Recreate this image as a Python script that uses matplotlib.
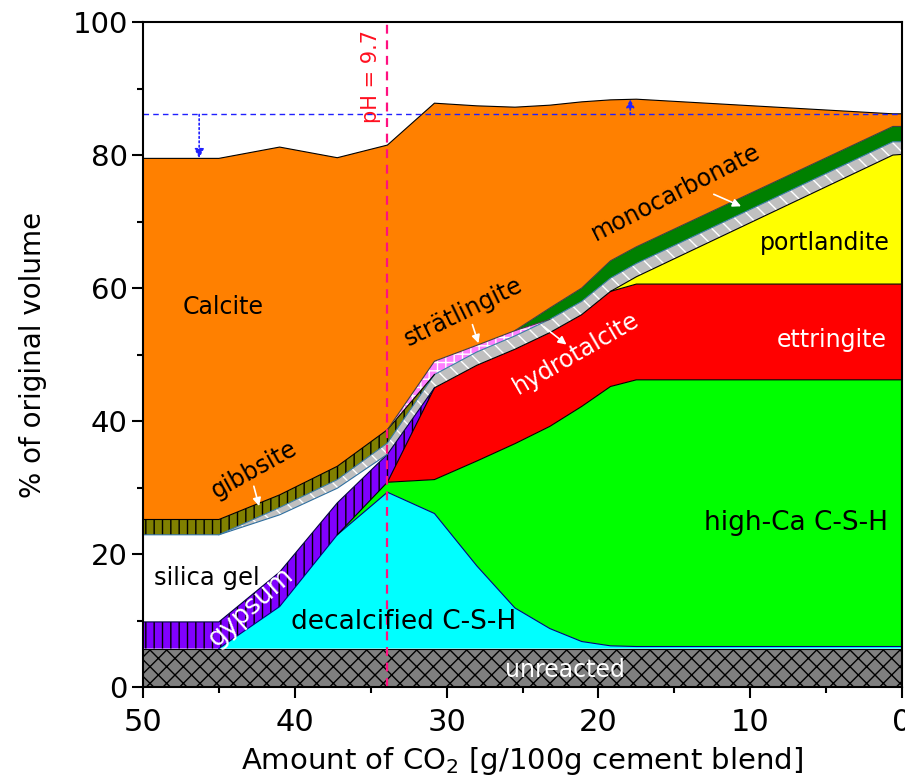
import numpy as np
import matplotlib
matplotlib.use("Agg")
import matplotlib.pyplot as plt

plt.rcParams['font.family'] = ['DejaVu Sans']
plt.rcParams['hatch.linewidth'] = 1.0

# CO2 uptake steps [g/100g cement blend]
co2 = [50, 45, 41, 37.2, 33.9, 30.8, 28, 25.5, 23.2, 21.1, 19.2, 17.5, 0.6, 0]

# phase volumes in % of original volume, stacked bottom -> top
unreacted = [5.8, 5.8, 5.8, 5.8, 5.8, 5.8, 5.8, 5.8, 5.8, 5.8, 5.8, 5.8, 5.8, 5.8]
decalcified_csh = [0, 0, 6.3, 17.1, 23.5, 20.3, 12.4, 6.1, 3.0, 1.05, 0.4, 0.3, 0.3, 0.3]
high_ca_csh = [0, 0, 0, 0, 1.5, 5.1, 15.8, 24.7, 30.4, 35.35, 39.0, 40.1, 40.1, 40.1]
ettringite = [0, 0, 0, 0, 0, 13.8, 14.4, 14.2, 14.1, 13.8, 14.3, 14.4, 14.4, 14.4]
portlandite = [0, 0, 0, 0, 0, 0, 0, 0, 0, 0, 0, 1.1, 19.4, 19.5]
gypsum = [4.0, 4.0, 5.2, 4.8, 4.2, 0, 0, 0, 0, 0, 0, 0, 0, 0]
silica_gel = [13.1, 13.1, 8.6, 2.2, 0, 0, 0, 0, 0, 0, 0, 0, 0, 0]
hydrotalcite = [0, 0, 1.1, 1.3, 1.7, 2.0, 2.0, 2.0, 2.0, 2.0, 2.0, 2.0, 2.0, 1.9]
gibbsite = [2.3, 2.3, 1.9, 2.0, 2.0, 0, 0, 0, 0, 0, 0, 0, 0, 0]
stratlingite = [0, 0, 0, 0, 0, 2.0, 1.0, 0.8, 0, 0, 0, 0, 0, 0]
monocarbonate = [0, 0, 0, 0, 0, 0, 0, 0, 1.7, 2.0, 2.6, 2.5, 2.3, 2.3]
calcite = [54.3, 54.3, 52.3, 46.4, 42.8, 38.8, 36.0, 33.6, 30.5, 28.0, 24.2, 22.2, 1.9, 1.9]

ph_co2 = 33.9        # pH = 9.7 reached
ref_volume = 86.1    # total volume at 0 g CO2

# values, face colour, hatch, hatch colour, outline colour
layers = [
    (unreacted, "#808080", "xx", "black", "black"),
    (decalcified_csh, "#00ffff", None, None, "#000080"),
    (high_ca_csh, "#00ff00", None, None, "black"),
    (ettringite, "#ff0000", None, None, "black"),
    (portlandite, "#ffff00", None, None, "black"),
    (gypsum, "#8000ff", "||", "black", "#000040"),
    (silica_gel, "white", None, None, "#3070a0"),
    (hydrotalcite, "#c0c0c0", "\\\\", "white", "#3a7ca5"),
    (gibbsite, "#808000", "||", "black", "black"),
    (stratlingite, "#ff80ff", "++", "white", "#404040"),
    (monocarbonate, "#008000", None, None, "#404040"),
    (calcite, "#ff8000", None, None, "black"),
]

fig = plt.figure(figsize=(9.05, 7.79), dpi=100)
ax = fig.add_axes([0.158, 0.118, 0.8387, 0.8537])

x = np.array(co2, dtype=float)
base = np.zeros_like(x)
tops = []
for vals, face, hatch, hcol, ecol in layers:
    v = np.array(vals, dtype=float)
    top = base + v
    ax.fill_between(x, base, top, facecolor=face, edgecolor="none", lw=0)
    if hatch:
        ax.fill_between(x, base, top, facecolor="none", edgecolor=hcol,
                        hatch=hatch, lw=0)
    tops.append((top, v, ecol))
    base = top

# outline along the top of each phase, skipped where it is absent
for top, v, ecol in tops:
    keep = np.ones(len(v), dtype=bool)
    for i in range(len(v)):
        left = v[i - 1] if i > 0 else 0
        right = v[i + 1] if i < len(v) - 1 else 0
        if v[i] == 0 and left == 0 and right == 0:
            keep[i] = False
    ax.plot(x, np.ma.masked_where(~keep, top), color=ecol, lw=0.8)

# reference lines
ax.axhline(ref_volume, color="#2020ff", ls=(0, (4, 3)), lw=1)
ax.axvline(ph_co2, color="#ff1080", ls=(0, (4, 3)), lw=1.6)
ax.text(35.0, 91.8, "pH = 9.7", color="#ff1020", rotation=90,
        ha="center", va="center", fontsize=15)
ax.annotate("", xy=(46.3, calcite[0] + 25.2), xytext=(46.3, ref_volume),
            arrowprops=dict(arrowstyle="-|>", color="#2020ff", ls=":", lw=1.2,
                            mutation_scale=14, shrinkA=0, shrinkB=0))
ax.annotate("", xy=(17.9, 88.4), xytext=(17.9, ref_volume),
            arrowprops=dict(arrowstyle="-|>", color="#2020ff", ls=":", lw=1.2,
                            mutation_scale=12, shrinkA=0, shrinkB=0))

# phase labels
lab = dict(fontsize=17, ha="center", va="center")
ax.text(44.7, 57.2, "Calcite", color="black", **lab)
ax.text(45.8, 16.4, "silica gel", color="black", fontsize=17.5,
        ha="center", va="center")
ax.text(42.9, 12.1, "gypsum", color="white", rotation=42, fontsize=19,
        ha="center", va="center")
ax.text(32.8, 9.8, "decalcified C-S-H", color="black", fontsize=19,
        ha="center", va="center")
ax.text(22.2, 2.6, "unreacted", color="white", **lab)
ax.text(7.0, 24.7, "high-Ca C-S-H", color="black", fontsize=19,
        ha="center", va="center")
ax.text(4.6, 52.2, "ettringite", color="white", **lab)
ax.text(5.1, 66.8, "portlandite", color="black", **lab)
ax.text(14.9, 74.4, "monocarbonate", color="black", rotation=27, **lab)
ax.text(21.5, 50.2, "hydrotalcite", color="white", rotation=30, **lab)
ax.text(28.9, 56.4, "strätlingite", color="black", rotation=26, **lab)
ax.text(42.7, 32.7, "gibbsite", color="black", rotation=29, **lab)

arrow = dict(arrowstyle="-|>", color="white", lw=1.2, mutation_scale=12,
             shrinkA=0, shrinkB=0)
ax.annotate("", xy=(10.6, 72.3), xytext=(12.4, 74.1), arrowprops=arrow)
ax.annotate("", xy=(22.1, 51.5), xytext=(23.6, 54.2), arrowprops=arrow)
ax.annotate("", xy=(27.9, 51.7), xytext=(28.3, 54.5), arrowprops=arrow)
ax.annotate("", xy=(42.35, 27.2), xytext=(42.7, 30.2), arrowprops=arrow)

ax.set_xlim(50, 0)
ax.set_ylim(0, 100)
ax.set_xticks([50, 40, 30, 20, 10, 0])
ax.set_xticks([45, 35, 25, 15, 5], minor=True)
ax.set_yticks([0, 20, 40, 60, 80, 100])
ax.set_yticks([10, 30, 50, 70, 90], minor=True)
ax.tick_params(which="major", direction="out", length=8, width=1.5)
ax.tick_params(which="minor", direction="out", length=4, width=1.5)
ax.tick_params(axis="y", which="major", labelsize=21, pad=3)
ax.tick_params(axis="x", which="major", labelsize=22, pad=7)
for s in ax.spines.values():
    s.set_linewidth(1.5)

ax.set_xlabel("Amount of CO$_2$ [g/100g cement blend]", fontsize=21)
ax.set_ylabel("% of original volume", fontsize=20)
ax.xaxis.set_label_coords(0.5, -0.087)
ax.yaxis.set_label_coords(-0.127, 0.5)

fig.savefig("out.png", dpi=100)
